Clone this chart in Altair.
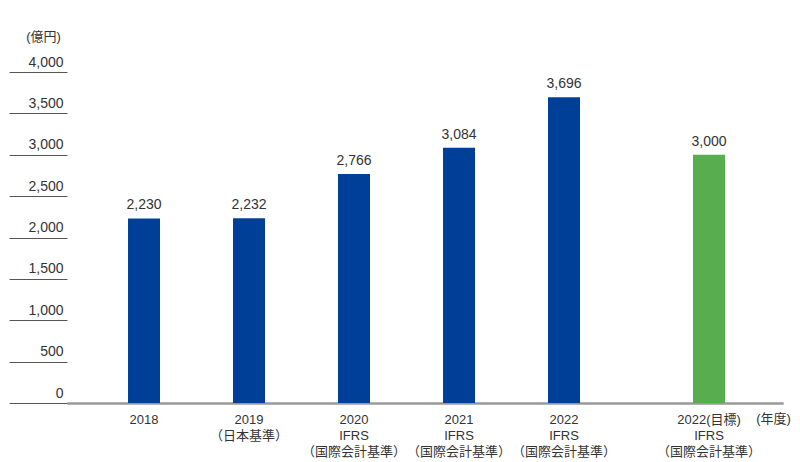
import altair as alt
import pandas as pd

# ---- data ----
years = ["2018", "2019", "2020", "2021", "2022"]
notes = ["", "（日本基準）", "IFRS|（国際会計基準）", "IFRS|（国際会計基準）", "IFRS|（国際会計基準）"]
sales = [2230, 2232, 2766, 3084, 3696]

target_years = ["2022(目標)"]
target_notes = ["IFRS|（国際会計基準）"]
target_sales = [3000]

y_ticks = [0, 500, 1000, 1500, 2000, 2500, 3000, 3500, 4000]

actual = pd.DataFrame({
    "label": [y + ("|" + n if n else "") for y, n in zip(years, notes)],
    "value": sales,
})
plan = pd.DataFrame({
    "label": [y + ("|" + n if n else "") for y, n in zip(target_years, target_notes)],
    "value": target_sales,
})

FONT = "Liberation Sans, Noto Sans CJK JP, sans-serif"
BLUE = "#003f98"
GREEN = "#58ad4e"
TEXT = "#333333"
W, H = 716, 331
BAR = 32


def x_axis(title):
    return alt.Axis(
        orient="bottom", title=title, titleX=706, titleY=15, titleAlign="center",
        titleBaseline="middle", titleFontWeight="normal", titleFontSize=13,
        titleColor=TEXT, labelExpr="split(datum.value, '|')", labelAngle=0,
        labelFontSize=13, labelLineHeight=16, labelColor=TEXT, labelPadding=10,
        labelBaseline="top", ticks=False, domainColor="#999999", domainWidth=2,
        labelOverlap=False,
    )


x_actual = alt.X(
    "label:N", sort=None,
    scale=alt.Scale(paddingInner=0.181, paddingOuter=1, align=0.162),
    axis=x_axis("(年度)"),
)
x_plan = alt.X(
    "label:N", sort=None,
    scale=alt.Scale(paddingInner=0.9, paddingOuter=1, align=0.9165),
    axis=x_axis(""),
)

y_enc = alt.Y(
    "value:Q",
    scale=alt.Scale(domain=[0, 4000], nice=False),
    axis=alt.Axis(
        values=y_ticks, format=",d", title="(億円)", titleAngle=0, titleX=-24,
        titleY=-36, titleAlign="center", titleBaseline="middle",
        titleFontWeight="normal", titleFontSize=13, titleColor=TEXT,
        tickSize=58, tickColor="#555555", tickWidth=1, domain=False, grid=False,
        labelPadding=-54, labelAlign="right", labelBaseline="alphabetic",
        labelOffset=-6, labelFontSize=14, labelColor=TEXT,
    ),
)

blue = alt.layer(
    alt.Chart(actual).mark_bar(color=BLUE, size=BAR).encode(x=x_actual, y=y_enc),
    alt.Chart(actual).mark_text(dy=-9, baseline="alphabetic", fontSize=14, color=TEXT)
    .encode(x=x_actual, y=y_enc, text=alt.Text("value:Q", format=",d")),
)
green = alt.layer(
    alt.Chart(plan).mark_bar(color=GREEN, size=BAR).encode(x=x_plan, y=y_enc),
    alt.Chart(plan).mark_text(dy=-9, baseline="alphabetic", fontSize=14, color=TEXT)
    .encode(x=x_plan, y=y_enc, text=alt.Text("value:Q", format=",d")),
)

chart = (
    alt.layer(blue, green)
    .resolve_scale(x="independent")
    .properties(width=W, height=H,
                padding={"left": 0, "top": 22, "right": 0, "bottom": 0})
    .configure(font=FONT)
    .configure_view(stroke=None)
)

chart.save("out.html", embed_options={"renderer": "svg", "actions": False})
